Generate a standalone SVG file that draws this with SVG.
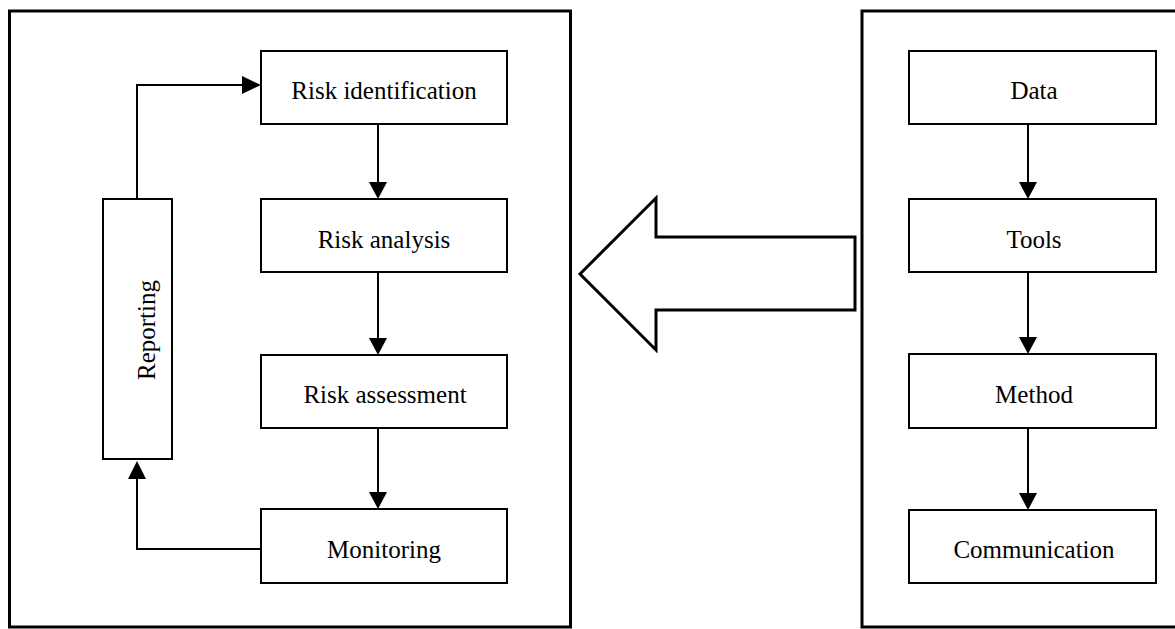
<svg xmlns="http://www.w3.org/2000/svg" width="1175" height="629" viewBox="0 0 1175 629">
<defs>
<style>
.panel{fill:none;stroke:#000;stroke-width:3}
.box{fill:#fff;stroke:#000;stroke-width:2}
.lbl{font-family:"Liberation Serif","Times New Roman",serif;font-size:25px;fill:#000;text-anchor:middle}
.conn{fill:none;stroke:#000;stroke-width:2}
.head{fill:#000;stroke:none}
</style>
</defs>
<rect width="1175" height="629" fill="#fff"/>
<g id="panel-left"><rect class="panel" x="9.5" y="11" width="561" height="616"/></g>
<g id="panel-right"><rect class="panel" x="862" y="11" width="340" height="616"/></g>
<g id="big-arrow"><polygon points="580,274 656,198 656,237 855,237 855,310 656,310 656,350" fill="#fff" stroke="#000" stroke-width="3" stroke-linejoin="miter"/></g>
<g id="connectors">
<line class="conn" x1="378" y1="124" x2="378" y2="183"/>
<polygon class="head" points="369,182 387,182 378,199"/>
<line class="conn" x1="378" y1="272" x2="378" y2="339"/>
<polygon class="head" points="369,338 387,338 378,355"/>
<line class="conn" x1="378" y1="428" x2="378" y2="493"/>
<polygon class="head" points="369,492 387,492 378,509"/>
<polyline class="conn" points="137,199 137,85 243,85"/>
<polygon class="head" points="242,76 242,94 261,85"/>
<polyline class="conn" points="261,549 137,549 137,478"/>
<polygon class="head" points="128,479 146,479 137,461"/>
<line class="conn" x1="1028" y1="124" x2="1028" y2="183"/>
<polygon class="head" points="1019,182 1037,182 1028,199"/>
<line class="conn" x1="1028" y1="272" x2="1028" y2="338"/>
<polygon class="head" points="1019,337 1037,337 1028,354"/>
<line class="conn" x1="1028" y1="428" x2="1028" y2="494"/>
<polygon class="head" points="1019,493 1037,493 1028,510"/>
</g>
<g id="risk-identification"><rect class="box" x="261" y="51" width="246" height="73"/><text class="lbl" x="384" y="99">Risk identification</text></g>
<g id="risk-analysis"><rect class="box" x="261" y="199" width="246" height="73"/><text class="lbl" x="384" y="248">Risk analysis</text></g>
<g id="risk-assessment"><rect class="box" x="261" y="355" width="246" height="73"/><text class="lbl" x="385" y="403">Risk assessment</text></g>
<g id="monitoring"><rect class="box" x="261" y="509" width="246" height="74"/><text class="lbl" x="384" y="558">Monitoring</text></g>
<g id="reporting"><rect class="box" x="103" y="199" width="69" height="260"/><text class="lbl" transform="translate(155,330) rotate(-90)" x="0" y="0">Reporting</text></g>
<g id="data"><rect class="box" x="909" y="51" width="247" height="73"/><text class="lbl" x="1034" y="99">Data</text></g>
<g id="tools"><rect class="box" x="909" y="199" width="247" height="73"/><text class="lbl" x="1034" y="248">Tools</text></g>
<g id="method"><rect class="box" x="909" y="354" width="247" height="74"/><text class="lbl" x="1034" y="403">Method</text></g>
<g id="communication"><rect class="box" x="909" y="510" width="247" height="73"/><text class="lbl" x="1034" y="558">Communication</text></g>
</svg>
